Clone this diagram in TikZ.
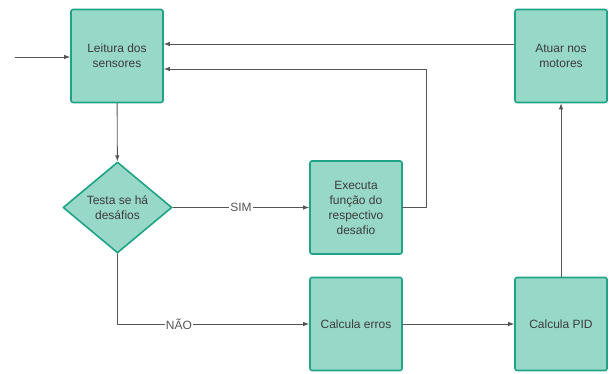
\documentclass[tikz,border=0pt]{standalone}
\usepackage{fontspec}
\setmainfont{Liberation Sans}
\usepackage{xcolor}
\usepackage{tikz}
\usetikzlibrary{arrows.meta,calc,positioning,shapes.geometric}
\definecolor{stepfill}{HTML}{98D8C9}
\definecolor{stepline}{HTML}{1FA386}
\definecolor{flowline}{HTML}{555555}
\definecolor{steptext}{HTML}{3C3C3C}
\tikzset{
every picture/.style={line cap=round,line join=round},
flow box/.style={
  draw=stepline,
  fill=stepfill,
  rounded corners=2pt,
  line width=1.6pt,
  minimum width=92pt,
  minimum height=93pt,
  align=center,
  text=steptext,
  font=\fontsize{12}{15}\selectfont
},
flow decision/.style={
  diamond,
  draw=stepline,
  fill=stepfill,
  line width=1.6pt,
  minimum width=109pt,
  minimum height=91pt,
  inner sep=0pt,
  align=center,
  text=steptext,
  font=\fontsize{12}{15}\selectfont
},
fig flow/.style={
  draw=flowline,
  -{Latex[length=6pt,width=4.5pt]},
  line width=0.9pt
},
flow label/.style={fill=white, inner sep=1pt, text=flowline, font=\fontsize{12}{14}\selectfont}
}

\begin{document}
\begin{tikzpicture}[x=1pt,y=1pt]
\useasboundingbox (0,0) rectangle (614,-374);
\node[flow box] (leitura) at (117,-56) {Leitura dos\\sensores};
\node[flow box] (atuar) at (561,-56) {Atuar nos\\motores};
\node[flow decision] (testa) at (117.5,-207.5) {Testa se há\\desáfios};
\node[flow box] (executa) at (356,-207.5) {Executa\\função do\\respectivo\\desafio};
\node[flow box] (erros) at (356,-324) {Calcula erros};
\node[flow box] (pid) at (561,-324) {Calcula PID};
\coordinate (entrada) at (15,-57);
\coordinate (retorno) at (426,-207.5);

\draw[fig flow] (entrada) -- (entrada -| leitura.west);
\draw[fig flow] (leitura) -- (testa);
\draw[fig flow] (testa) -- node[flow label] {SIM} (executa);
\draw[fig flow] (testa.south) |- node[flow label,pos=0.66] {NÃO} (erros.west);
\draw[fig flow] (erros) -- (pid);
\draw[fig flow] (pid) -- (atuar);
\draw[fig flow] ([yshift=12pt]atuar.west) -- ([yshift=12pt]leitura.east);
\draw[fig flow] (executa.east) -- (retorno) |- ([yshift=-13pt]leitura.east);
\end{tikzpicture}
\end{document}
